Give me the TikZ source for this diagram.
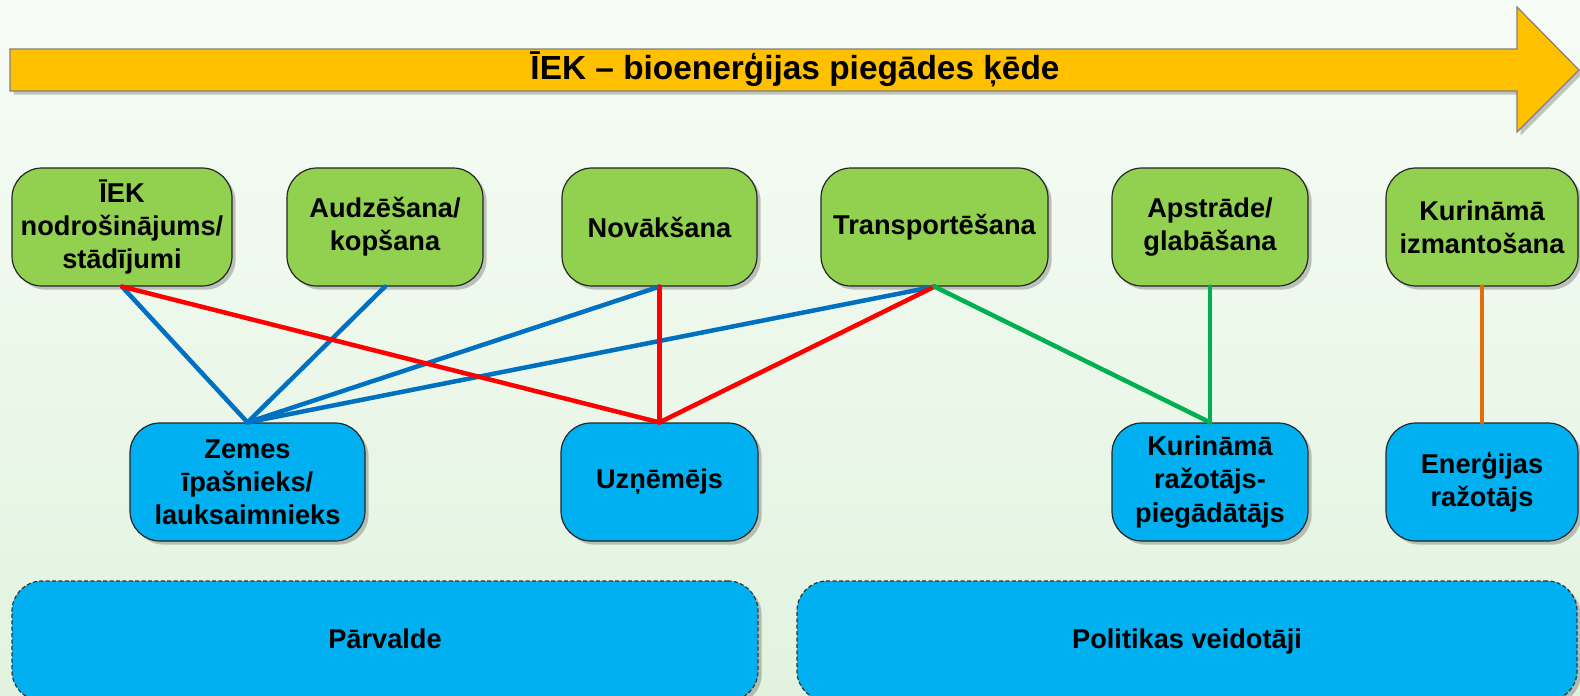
\documentclass[tikz,border=0pt]{standalone}
\usepackage{fontspec}
\setmainfont{Liberation Sans}
\usetikzlibrary{shadows}
\definecolor{bgtop}{HTML}{F7FCF6}
\definecolor{bgbot}{HTML}{E1F3DF}
\definecolor{arrowfill}{HTML}{FFC000}
\definecolor{greenbox}{HTML}{92D050}
\definecolor{bluebox}{HTML}{00B0F0}
\definecolor{lblue}{HTML}{0070C0}
\definecolor{lred}{HTML}{FF0000}
\definecolor{lgreen}{HTML}{00B050}
\definecolor{lorange}{HTML}{E46C0A}
\begin{document}
\begin{tikzpicture}[x=0.5pt,y=-0.5pt,
  myshadow/.style={drop shadow={shadow xshift=1.8pt, shadow yshift=-1.8pt, opacity=0.22, fill=black}},
  boxbase/.style={draw=black!85, line width=0.6pt, rounded corners=15pt, align=center, inner sep=0pt,
    font=\fontsize{13.6pt}{16.6pt}\selectfont\bfseries, myshadow},
  gbox/.style={boxbase, fill=greenbox, minimum height=59pt},
  bbox/.style={boxbase, fill=bluebox, minimum height=59pt},
  dbox/.style={boxbase, fill=bluebox, draw=black!80, dash pattern=on 2pt off 1.2pt, rounded corners=15pt, minimum height=60pt},
  conn/.style={line width=2.25pt, line cap=round},
  titletext/.style={font=\fontsize{16.7pt}{20pt}\selectfont\bfseries, inner sep=0pt}
]
\path[use as bounding box, clip] (0,0) rectangle (1580,696);
\shade[top color=bgtop, bottom color=bgbot] (0,0) rectangle (1580,696);

% big arrow
\draw[draw=black!50, fill=arrowfill, line width=0.6pt, myshadow]
  (10,49) -- (1517,49) -- (1517,7) -- (1579,70) -- (1517,132) -- (1517,91) -- (10,91) -- cycle;
\node[titletext, anchor=base] (title) at (795,79) {ĪEK – bioenerģijas piegādes ķēde};

% top row
\node[gbox, minimum width=110pt] (g1) at (122,227) {ĪEK\\nodrošinājums/\\stādījumi};
\node[gbox, minimum width=98pt] (g2) at (385,227) {Audzēšana/\\kopšana};
\node[gbox, minimum width=97.5pt] (g3) at (659.5,227) {Novākšana};
\node[gbox, minimum width=113.5pt] (g4) at (934.5,227) {Transportēšana};
\node[gbox, minimum width=98pt] (g5) at (1210,227) {Apstrāde/\\glabāšana};
\node[gbox, minimum width=96pt] (g6) at (1482,227) {Kurināmā\\izmantošana};

% second row
\node[bbox, minimum width=117.5pt] (b1) at (247.5,482) {Zemes\\īpašnieks/\\lauksaimnieks};
\node[bbox, minimum width=98.5pt] (b2) at (659.5,482) {Uzņēmējs};
\node[bbox, minimum width=98pt] (b3) at (1210,482) {Kurināmā\\ražotājs-\\piegādātājs};
\node[bbox, minimum width=96pt] (b4) at (1482,482) {Enerģijas\\ražotājs};

% bottom row
\node[dbox, minimum width=373pt] (p1) at (385,641) {\raisebox{2pt}{Pārvalde}};
\node[dbox, minimum width=390pt] (p2) at (1187,641) {\raisebox{2pt}{Politikas veidotāji}};

% connectors
\draw[conn, lblue] (g1.south) -- (b1.north);
\draw[conn, lblue] (g2.south) -- (b1.north);
\draw[conn, lblue] (g3.south) -- (b1.north);
\draw[conn, lblue] (g4.south) -- (b1.north);
\draw[conn, lred] (g1.south) -- (b2.north);
\draw[conn, lred] (g3.south) -- (b2.north);
\draw[conn, lred] (g4.south) -- (b2.north);
\draw[conn, lgreen] (g4.south) -- (b3.north);
\draw[conn, lgreen] (g5.south) -- (b3.north);
\draw[conn, lorange] (g6.south) -- (b4.north);
\end{tikzpicture}
\end{document}
